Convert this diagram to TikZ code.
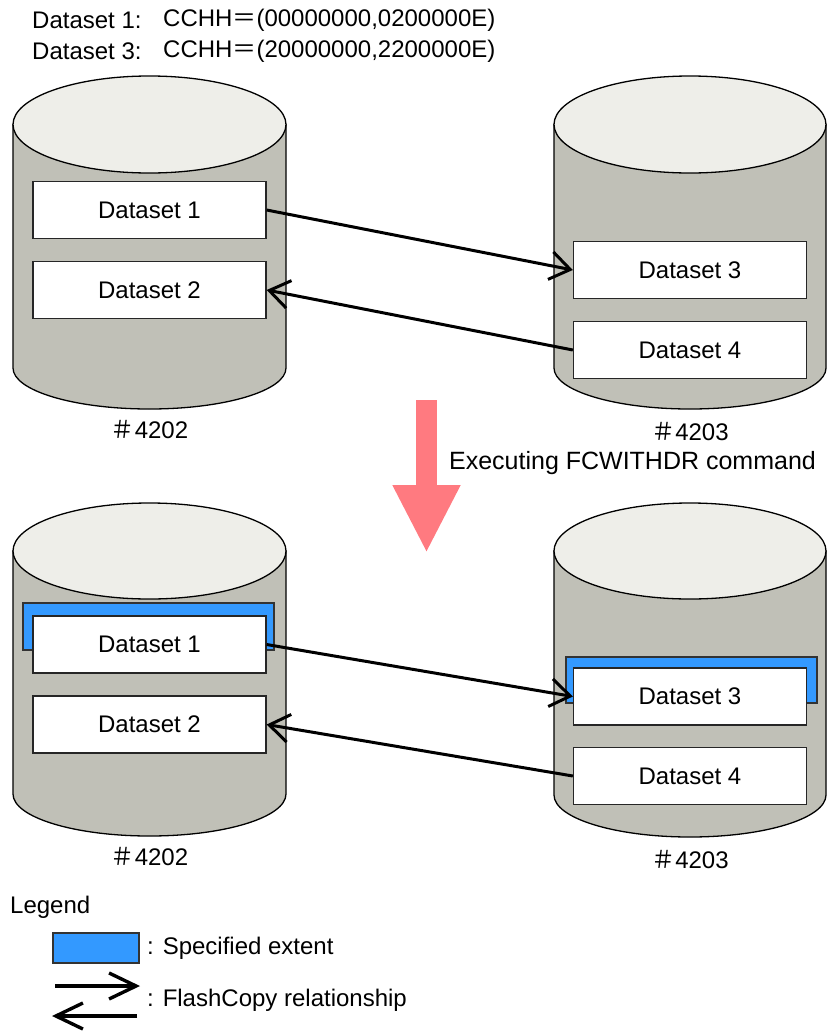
\documentclass[tikz,border=0pt]{standalone}
\usepackage{fontspec}
\setmainfont{Liberation Sans}
\newfontfamily\cjk{Noto Sans CJK JP}
\usetikzlibrary{
    arrows.meta,
    positioning
}
\definecolor{drumgray}{RGB}{192,192,183}
\definecolor{topgray}{RGB}{238,238,233}
\definecolor{extentblue}{RGB}{51,153,255}
\definecolor{arrowred}{RGB}{255,122,128}

\begin{document}
\begin{tikzpicture}[
        x=1pt, y=-1pt,
        every node/.style={font=\fontsize{24}{28}\selectfont, inner sep=0pt},
        drum/.style={draw=black, line width=1.3pt, fill=drumgray},
        drumtop/.style={draw=black, line width=1.3pt, fill=topgray},
        dataset/.style={
            rectangle,
            draw=black!85,
            line width=1.3pt,
            fill=white,
            minimum width=233pt,
            minimum height=57pt
        },
        extent/.style={draw=black!80, line width=1.1pt, fill=extentblue},
        flow/.style={-{Straight Barb[length=20pt,width=28pt,line width=3pt]}, line width=3pt},
        legflow/.style={-{Straight Barb[length=27pt,width=26pt,line width=3.4pt]}, line width=3.4pt},
        bigarrow/.style={-{Triangle[length=68pt,width=63pt]}, line width=21pt, draw=arrowred},
        volume/.style={anchor=center}
    ]
        \useasboundingbox (0,0) rectangle (827,1031);

        % header
        \node[anchor=west] (hdrA) at (32,20) {Dataset 1:};
        \node[anchor=west] (hdrB) at (32,51) {Dataset 3:};
        \node[anchor=west] (cchhA) at (163,20) {CCHH{\cjk ＝}(00000000,0200000E)};
        \node[anchor=west] (cchhB) at (163,51) {CCHH{\cjk ＝}(20000000,2200000E)};

        % volumes before
        \path[drum] (13,124.5) -- (13,368) arc[start angle=180,end angle=0,x radius=136.5,y radius=41] -- (286,124.5) -- cycle;
        \draw[drumtop] (149.5,124.5) ellipse[x radius=136.5,y radius=48.5];
        \path[drum] (554,124.5) -- (554,368) arc[start angle=180,end angle=0,x radius=136,y radius=41] -- (826,124.5) -- cycle;
        \draw[drumtop] (690,124.5) ellipse[x radius=136,y radius=48.5];

        \node[dataset] (dsA) at (149.5,210) {Dataset 1};
        \node[dataset] (dsB) at (149.5,290) {Dataset 2};
        \node[dataset] (dsC) at (690,270) {Dataset 3};
        \node[dataset] (dsD) at (690,350) {Dataset 4};

        \node[volume] (volA) at (149.5,430) {{\cjk ＃}4202};
        \node[volume] (volB) at (690,432) {{\cjk ＃}4203};

        \draw[flow] (dsA.east) -- (dsC.west);
        \draw[flow] (dsD.west) -- (dsB.east);

        % command
        \coordinate (cmdTop) at (426.5,400);
        \coordinate (cmdTip) at (426.5,553);
        \draw[bigarrow] (cmdTop) -- (cmdTip);
        \node[font=\fontsize{25}{28}\selectfont] (cmd) at (632.5,463) {Executing FCWITHDR command};

        % volumes after
        \path[drum] (13,551) -- (13,794) arc[start angle=180,end angle=0,x radius=136.5,y radius=42] -- (286,551) -- cycle;
        \draw[drumtop] (149.5,551) ellipse[x radius=136.5,y radius=48];
        \path[drum] (554,551) -- (554,795) arc[start angle=180,end angle=0,x radius=136,y radius=42] -- (826,551) -- cycle;
        \draw[drumtop] (690,551) ellipse[x radius=136,y radius=48];

        \draw[extent] (23,603) rectangle (274,650);
        \draw[extent] (566,657) rectangle (817,703);

        \node[dataset] (dsE) at (149.5,644.5) {Dataset 1};
        \node[dataset] (dsF) at (149.5,724.5) {Dataset 2};
        \node[dataset] (dsG) at (690,696.5) {Dataset 3};
        \node[dataset] (dsH) at (690,776) {Dataset 4};

        \node[volume] (volC) at (149.5,857) {{\cjk ＃}4202};
        \node[volume] (volD) at (690,860) {{\cjk ＃}4203};

        \draw[flow] (dsE.east) -- (dsG.west);
        \draw[flow] (dsH.west) -- (dsF.east);

        % legend
        \node[anchor=west] (legend) at (10,907) {Legend};
        \draw[extent] (53,933) rectangle (139,963);
        \node[anchor=west] (extentText) at (147,948) {: Specified extent};
        \coordinate (legA) at (55,986);
        \coordinate (legB) at (140,986);
        \coordinate (legC) at (137,1016);
        \coordinate (legD) at (52,1016);
        \draw[legflow] (legA) -- (legB);
        \draw[legflow] (legC) -- (legD);
        \node[anchor=west] (flashText) at (147,1000) {: FlashCopy relationship};
    \end{tikzpicture}
\end{document}
